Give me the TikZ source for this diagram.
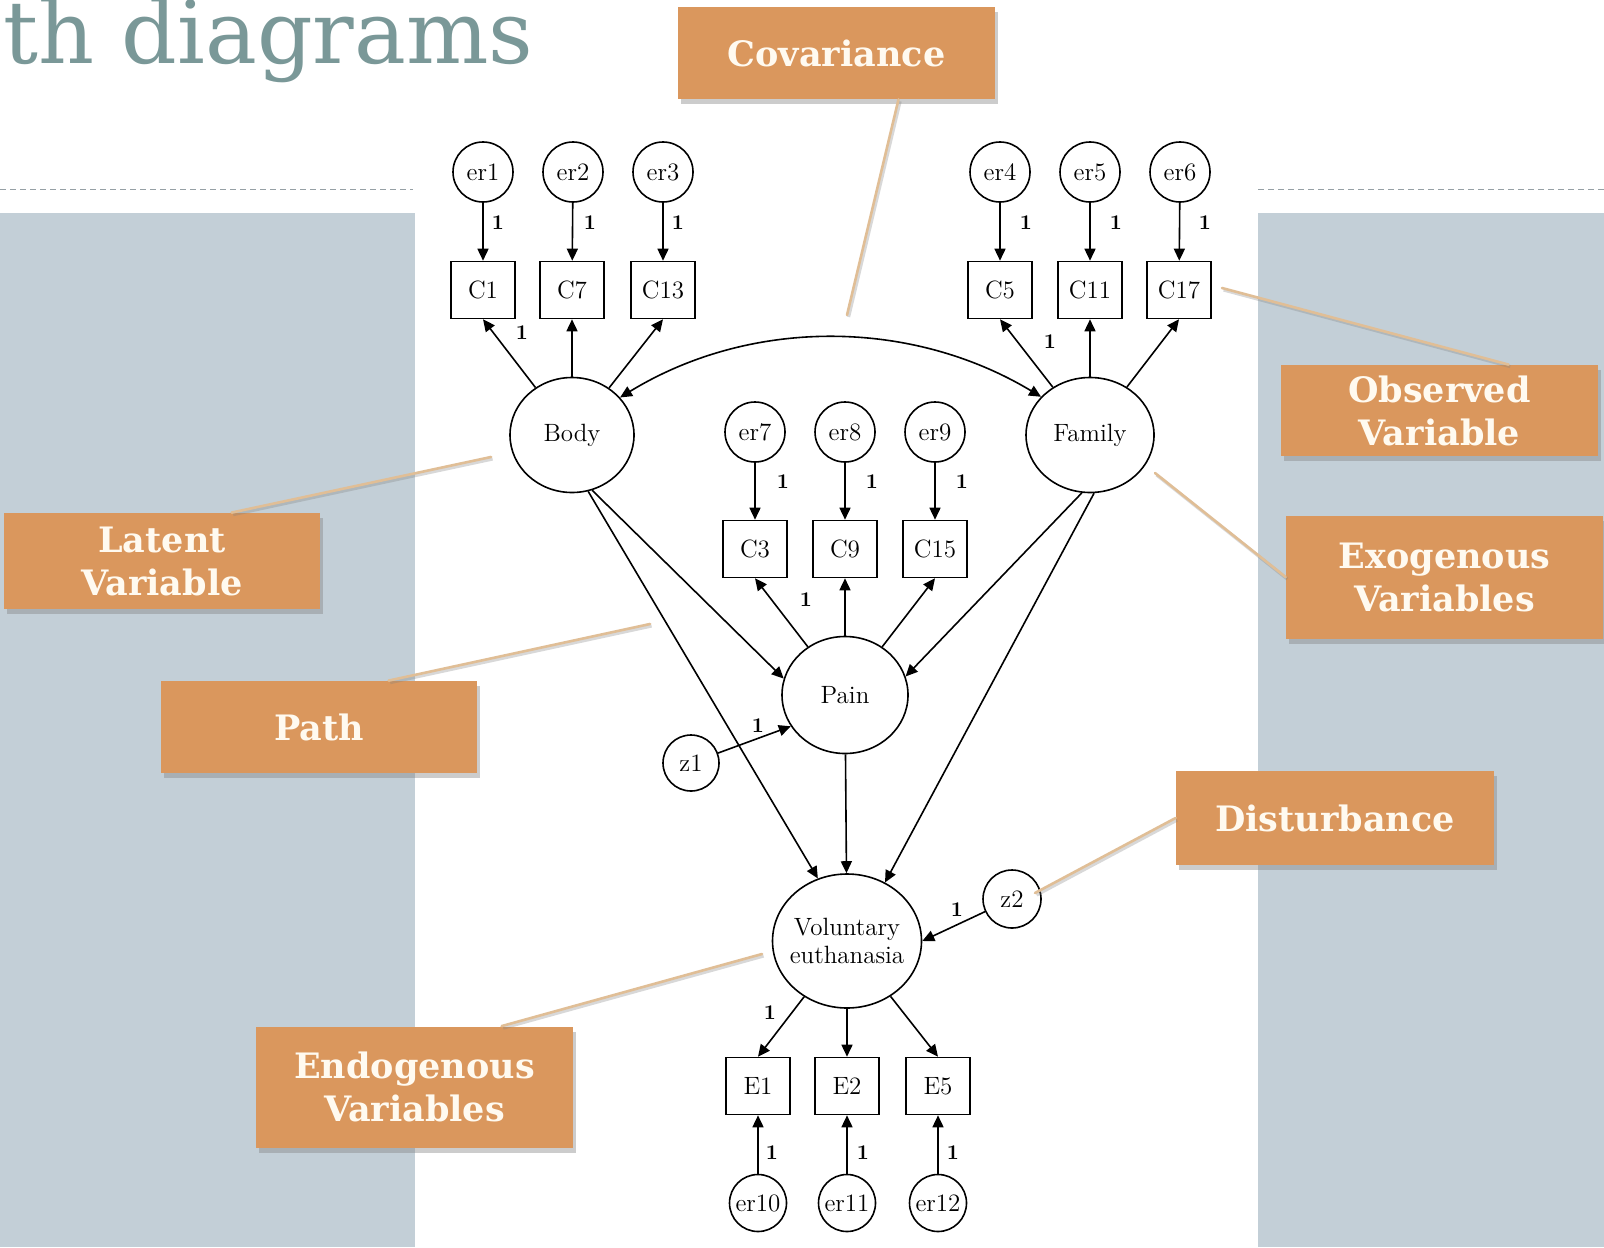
\documentclass[tikz,border=0pt]{standalone}
\usepackage{fontspec}
\usetikzlibrary{arrows.meta,shapes.geometric,shadows}
\newfontfamily\headfont{DejaVu Serif}
\newfontfamily\notefont{DejaVu Serif}
\definecolor{panel}{RGB}{195,207,215}
\definecolor{headgray}{RGB}{122,152,152}
\definecolor{noteorange}{RGB}{218,151,93}
\definecolor{notetext}{RGB}{255,250,240}
\definecolor{leader}{RGB}{224,190,150}
\definecolor{dashgray}{RGB}{150,160,165}

\begin{document}
\begin{tikzpicture}[x=0.5pt,y=-0.5pt,
  err/.style={circle,draw,line width=0.8pt,minimum size=30pt,inner sep=0pt,
    font=\fontsize{12.5}{14}\selectfont},
  obs/.style={rectangle,draw,line width=0.8pt,minimum width=32pt,minimum height=28.5pt,
    inner sep=0pt,font=\fontsize{12.5}{14}\selectfont},
  lat/.style={ellipse,draw,line width=0.8pt,inner sep=0pt,align=center,
    font=\fontsize{12.5}{14}\selectfont},
  wt/.style={inner sep=0pt,font=\bfseries\fontsize{10.5}{12}\selectfont},
  arr/.style={line width=0.8pt,-{Triangle[length=6pt,width=5.5pt]}},
  covarrow/.style={line width=0.8pt,
    {Triangle[length=6pt,width=5.5pt]}-{Triangle[length=6pt,width=5.5pt]}},
  notebox/.style={rectangle,fill=noteorange,text=notetext,align=center,inner sep=0pt,
    minimum width=158.5pt,font=\notefont\bfseries\fontsize{17.5}{21.5}\selectfont,
    drop shadow={shadow xshift=1.5pt,shadow yshift=-2.5pt,opacity=0.4}},
  leadline/.style={line width=1.3pt,draw=leader,line cap=round},
  leadshade/.style={line width=1.6pt,draw=black!50,opacity=0.3,
    transform canvas={shift={(0.8pt,-1pt)}}},
]
% page and slide background
\fill[white] (0,0) rectangle (1604,1247);
\useasboundingbox (0,0) rectangle (1604,1247);
\clip (0,0) rectangle (1604,1247);
\fill[panel] (0,213) rectangle (415,1247);
\fill[panel] (1258,213) rectangle (1604,1247);
\draw[dashgray,line width=0.5pt,dash pattern=on 3pt off 2pt] (0,189) -- (413,189);
\draw[dashgray,line width=0.5pt,dash pattern=on 3pt off 2pt] (1258,189) -- (1604,189);
\node[anchor=base east,inner sep=0pt,text=headgray,font=\headfont\fontsize{43.5}{45}\selectfont]
  (title) at (534,64) {th diagrams};

% measurement errors and indicators of the three factors
\node[err] (er1) at (483,172) {er1};
\node[err] (er2) at (573,172) {er2};
\node[err] (er3) at (663,172) {er3};
\node[err] (er4) at (1000,172) {er4};
\node[err] (er5) at (1090,172) {er5};
\node[err] (er6) at (1180,172) {er6};
\node[obs] (C1) at (483,290) {C1};
\node[obs] (C7) at (572,290) {C7};
\node[obs] (C13) at (663,290) {C13};
\node[obs] (C5) at (1000,290) {C5};
\node[obs] (C11) at (1090,290) {C11};
\node[obs] (C17) at (1179,290) {C17};

\node[lat,minimum width=62pt,minimum height=57.5pt] (Body) at (572,435) {Body};
\node[lat,minimum width=64pt,minimum height=57.5pt] (Family) at (1090,435) {Family};

\node[err] (er7) at (755,432) {er7};
\node[err] (er8) at (845,432) {er8};
\node[err] (er9) at (935,432) {er9};
\node[obs] (C3) at (755,549) {C3};
\node[obs] (C9) at (845,549) {C9};
\node[obs] (C15) at (935,549) {C15};

\node[lat,minimum width=63pt,minimum height=58.5pt] (Pain) at (845,695) {Pain};
\node[err,minimum size=28pt] (z1) at (691,763) {z1};
\node[lat,inner xsep=-5pt,minimum width=74.5pt,minimum height=67pt] (VE) at (847,941)
  {Voluntary\\euthanasia};
\node[err,minimum size=29pt] (z2) at (1012,899) {z2};

\node[obs] (E1) at (758,1086) {E1};
\node[obs] (E2) at (847,1086) {E2};
\node[obs] (E5) at (938,1086) {E5};
\node[err,minimum size=28.5pt] (er10) at (758,1203) {er10};
\node[err,minimum size=28.5pt] (er11) at (847,1203) {er11};
\node[err,minimum size=28.5pt] (er12) at (938,1203) {er12};

% paths
\foreach \a/\b in {er1/C1,er2/C7,er3/C13,er4/C5,er5/C11,er6/C17,er7/C3,er8/C9,er9/C15,
                   er10/E1,er11/E2,er12/E5}
  \draw[arr] (\a) -- (\b);
\draw[arr] (Body) -- (C1.south);
\draw[arr] (Body) -- (C7);
\draw[arr] (Body) -- (C13.south);
\draw[arr] (Family) -- (C5.south);
\draw[arr] (Family) -- (C11);
\draw[arr] (Family) -- (C17.south);
\draw[arr] (Pain) -- (C3.south);
\draw[arr] (Pain) -- (C9);
\draw[arr] (Pain) -- (C15.south);
\draw[arr] (VE) -- (E1.north);
\draw[arr] (VE) -- (E2);
\draw[arr] (VE) -- (E5.north);
\draw[arr] (Body.-70) -- (Pain.165);
\draw[arr] (Body.-74) -- (VE.115);
\draw[arr] (Family.-98) -- (Pain.17);
\draw[arr] (Family.-86) -- (VE.57);
\draw[arr] (Pain) -- (VE);
\draw[arr] (z1) -- (Pain.210);
\draw[arr] (z2) -- (VE.east);
\draw[covarrow] (Body.38) .. controls (750,318) and (910,318) .. (Family.142);

% fixed loadings
\node[wt] (w1) at (498,223) {1};
\node[wt] (w2) at (590,223) {1};
\node[wt] (w3) at (678,223) {1};
\node[wt] (w4) at (1026,223) {1};
\node[wt] (w5) at (1116,223) {1};
\node[wt] (w6) at (1205,223) {1};
\node[wt] (w7) at (522,333) {1};
\node[wt] (w8) at (1050,342) {1};
\node[wt] (w9) at (783,482) {1};
\node[wt] (w10) at (872,482) {1};
\node[wt] (w11) at (962,482) {1};
\node[wt] (w12) at (806,600) {1};
\node[wt] (w13) at (758,726) {1};
\node[wt] (w14) at (957,910) {1};
\node[wt] (w15) at (770,1013) {1};
\node[wt] (w16) at (772,1153) {1};
\node[wt] (w17) at (863,1153) {1};
\node[wt] (w18) at (953,1153) {1};

% callouts
\coordinate (ptcov) at (847,315);
\coordinate (ptobs) at (1222,288);
\coordinate (ptexo) at (1155,473);
\coordinate (ptlat) at (491,457);
\coordinate (ptpath) at (650,624);
\coordinate (ptdist) at (1035,893);
\coordinate (ptendo) at (762,954);

\node[notebox,minimum height=46pt] (tcov) at (836.5,53) {Covariance};
\node[notebox,minimum height=45.5pt] (tobs) at (1439.5,410.5) {Observed\\Variable};
\node[notebox,minimum height=61.5pt] (texo) at (1444.5,577) {Exogenous\\Variables};
\node[notebox,minimum height=48pt,minimum width=158pt] (tlat) at (162,561) {Latent\\Variable};
\node[notebox,minimum height=46pt,minimum width=158pt] (tpath) at (319,727) {Path};
\node[notebox,minimum height=47pt,minimum width=159pt] (tdist) at (1335,818) {Disturbance};
\node[notebox,minimum height=60.5pt] (tendo) at (414.5,1087) {Endogenous\\Variables};

% feet of the callout lines on their boxes
\coordinate (ftcov) at ([xshift=31pt]tcov.south);
\coordinate (ftobs) at ([xshift=114pt]tobs.north west);
\coordinate (ftexo) at (texo.west);
\coordinate (ftlat) at ([xshift=114pt]tlat.north west);
\coordinate (ftpath) at ([xshift=114pt]tpath.north west);
\coordinate (ftdist) at (tdist.west);
\coordinate (ftendo) at ([xshift=123pt]tendo.north west);

\foreach \n in {cov,obs,exo,lat,path,dist,endo}{
  \draw[leadshade] (ft\n) -- (pt\n);
  \draw[leadline] (ft\n) -- (pt\n);
}
\end{tikzpicture}
\end{document}
